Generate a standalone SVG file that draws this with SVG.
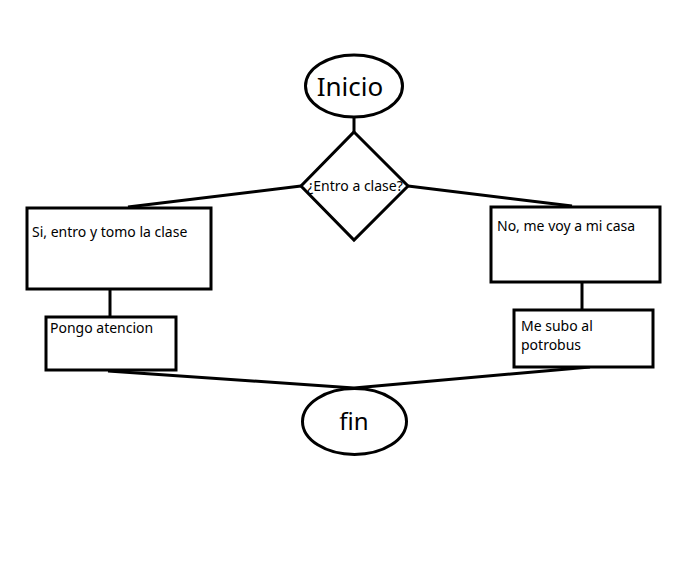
<svg xmlns="http://www.w3.org/2000/svg" width="696" height="564" viewBox="0 0 696 564">
<style>
.s{fill:#fff;stroke:#000;stroke-width:3}
.c{fill:none;stroke:#000;stroke-width:3}
text{font-family:"Noto Sans","Open Sans",sans-serif;fill:#000}
.t{font-size:14px}
</style>
<rect width="696" height="564" fill="#fff"/>
<g id="connectors">
<line class="c" x1="354" y1="116" x2="354" y2="132"/>
<line class="c" x1="301" y1="186" x2="128" y2="207"/>
<line class="c" x1="408" y1="186" x2="572" y2="206"/>
<line class="c" x1="110" y1="290" x2="110" y2="317"/>
<line class="c" x1="582" y1="282" x2="582" y2="310"/>
<line class="c" x1="108" y1="371" x2="354" y2="388"/>
<line class="c" x1="590" y1="367" x2="354" y2="388"/>
</g>
<g id="inicio">
<ellipse class="s" cx="354" cy="86" rx="48.5" ry="31"/>
<text x="350" y="96" font-size="26" text-anchor="middle">Inicio</text>
</g>
<g id="decision">
<polygon class="s" points="354,132 408,186 354,240 301,186"/>
<text x="355" y="191" font-size="14" text-anchor="middle">¿Entro a clase?</text>
</g>
<g id="si">
<rect class="s" x="27" y="208" width="184" height="81"/>
<text class="t" x="32" y="237">Si, entro y tomo la clase</text>
</g>
<g id="pongo">
<rect class="s" x="46" y="317" width="130" height="53"/>
<text class="t" x="50" y="333">Pongo atencion</text>
</g>
<g id="no">
<rect class="s" x="491" y="207" width="169" height="75"/>
<text class="t" x="497" y="231">No, me voy a mi casa</text>
</g>
<g id="subo">
<rect class="s" x="514" y="310" width="139" height="57"/>
<text class="t" x="521" y="331">Me subo al</text>
<text class="t" x="521" y="350">potrobus</text>
</g>
<g id="fin">
<ellipse class="s" cx="354.5" cy="421.5" rx="52" ry="33"/>
<text x="354" y="430" font-size="24" text-anchor="middle">fin</text>
</g>
</svg>
